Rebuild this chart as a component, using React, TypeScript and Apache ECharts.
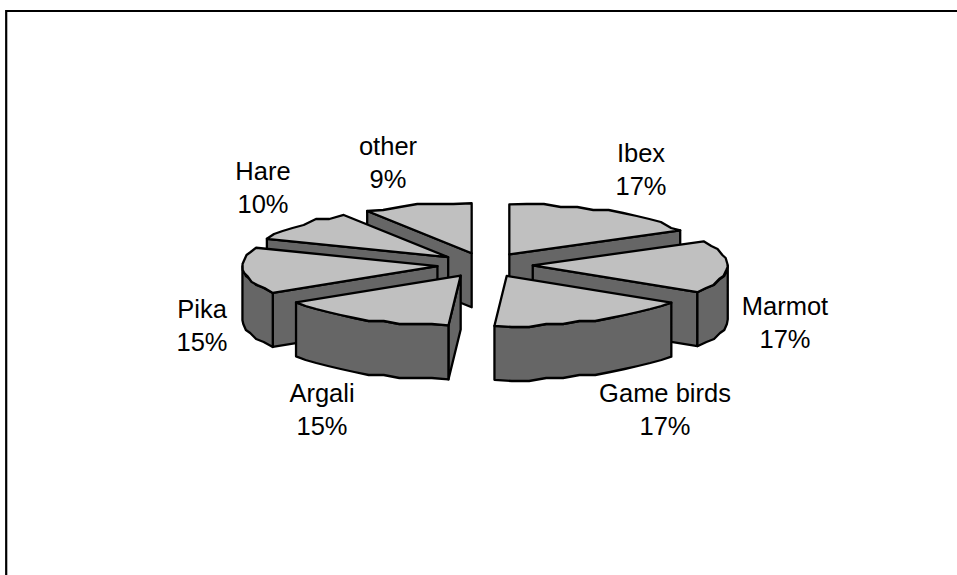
import React, { useEffect, useRef } from "react";
import * as echarts from "echarts";

const categories = ["Ibex", "Marmot", "Game birds", "Argali", "Pika", "Hare", "other"];
const shares = [17, 17, 17, 15, 15, 10, 9];

// Centre of each two-line label, in the same order as the categories.
const labelCentres = [
  [641, 169],
  [785, 322],
  [665, 409],
  [322, 409],
  [202, 325],
  [263, 187],
  [388, 162],
];

const WIDTH = 957;
const HEIGHT = 575;
const PIE = { cx: 485, cy: 265, rx: 195, ry: 50, depth: 54, explode: 0.245 };
const TOP_FILL = "#C0C0C0";
const SIDE_FILL = "#666666";
const EDGE = "#000000";
const STEP = Math.PI / 36;
const GRID = 3; // rim vertices snap to this pixel grid, which gives the coarse, bumpy rim

const total = shares.reduce((s, v) => s + v, 0);
const starts = shares.map((_, i) =>
  (shares.slice(0, i).reduce((s, v) => s + v, 0) / total) * 2 * Math.PI,
);
const ends = starts.map((a, i) => a + (shares[i] / total) * 2 * Math.PI);
const mids = starts.map((a, i) => (a + ends[i]) / 2);

// Slices are painted from the back of the pie to the front.
const paintOrder = shares
  .map((_, i) => i)
  .sort((a, b) => Math.cos(mids[b]) - Math.cos(mids[a]));

type Pt = [number, number];
const snap = (v: number) => Math.round(v / GRID) * GRID;

function apexOf(i: number): Pt {
  return [
    PIE.cx + PIE.explode * PIE.rx * Math.sin(mids[i]),
    PIE.cy - PIE.explode * PIE.ry * Math.cos(mids[i]),
  ];
}

function rim(apex: Pt, a: number): Pt {
  return [apex[0] + PIE.rx * Math.sin(a), apex[1] - PIE.ry * Math.cos(a)];
}

function rimPath(apex: Pt, from: number, to: number): Pt[] {
  const pts: Pt[] = [rim(apex, from)];
  const n = Math.max(1, Math.round((to - from) / STEP));
  for (let k = 1; k < n; k++) {
    const p = rim(apex, from + ((to - from) * k) / n);
    pts.push([p[0], snap(p[1])]);
  }
  pts.push(rim(apex, to));
  return pts;
}

const lowered = (pts: Pt[]): Pt[] => pts.map(([x, y]) => [x, y + PIE.depth]);

function face(points: Pt[], fill: string) {
  return {
    type: "polygon",
    shape: { points },
    style: { fill, stroke: EDGE, lineWidth: 2.3, lineJoin: "round" },
  };
}

function renderSlice(_params: unknown, api: any) {
  const i = api.value(1) as number;
  const a = starts[i];
  const b = ends[i];
  const apex = apexOf(i);
  const children: any[] = [];

  // A radial wall shows only when its outward side looks towards the viewer.
  if (Math.sin(a) < -1e-6) {
    const e = rim(apex, a);
    children.push(face([apex, e, ...lowered([e, apex])], SIDE_FILL));
  }
  if (Math.sin(b) > 1e-6) {
    const e = rim(apex, b);
    children.push(face([apex, e, ...lowered([e, apex])], SIDE_FILL));
  }

  // The outer wall exists only along the front half of the rim.
  const from = Math.max(a, Math.PI / 2);
  const to = Math.min(b, (3 * Math.PI) / 2);
  if (to > from) {
    const arc = rimPath(apex, from, to);
    children.push(face([...arc, ...lowered(arc).reverse()], SIDE_FILL));
  }

  children.push(face([apex, ...rimPath(apex, a, b)], TOP_FILL));

  return { type: "group", children };
}

export default function App() {
  const ref = useRef<HTMLDivElement>(null);

  useEffect(() => {
    const chart = echarts.init(ref.current!, null, { renderer: "svg" });
    chart.setOption({
      animation: false,
      backgroundColor: "#FFFFFF",
      graphic: [
        {
          type: "polyline",
          shape: { points: [[6.2, HEIGHT], [6.2, 11], [WIDTH, 11]] },
          style: { fill: "none", stroke: EDGE, lineWidth: 2.2 },
        },
        ...categories.map((name, i) => ({
          type: "text",
          x: labelCentres[i][0],
          y: labelCentres[i][1],
          style: {
            text: `${name}\n${shares[i]}%`,
            font: '25.5px "Liberation Sans", Arial, sans-serif',
            lineHeight: 33,
            align: "center",
            verticalAlign: "middle",
            fill: "#000000",
          },
        })),
      ],
      series: [
        {
          type: "custom",
          coordinateSystem: "none",
          silent: true,
          data: paintOrder.map((i) => [shares[i], i]),
          renderItem: renderSlice,
        },
      ],
    });
    return () => chart.dispose();
  }, []);

  return (
    <div
      ref={ref}
      style={{ position: "fixed", left: 0, top: 0, width: WIDTH, height: HEIGHT }}
    />
  );
}
